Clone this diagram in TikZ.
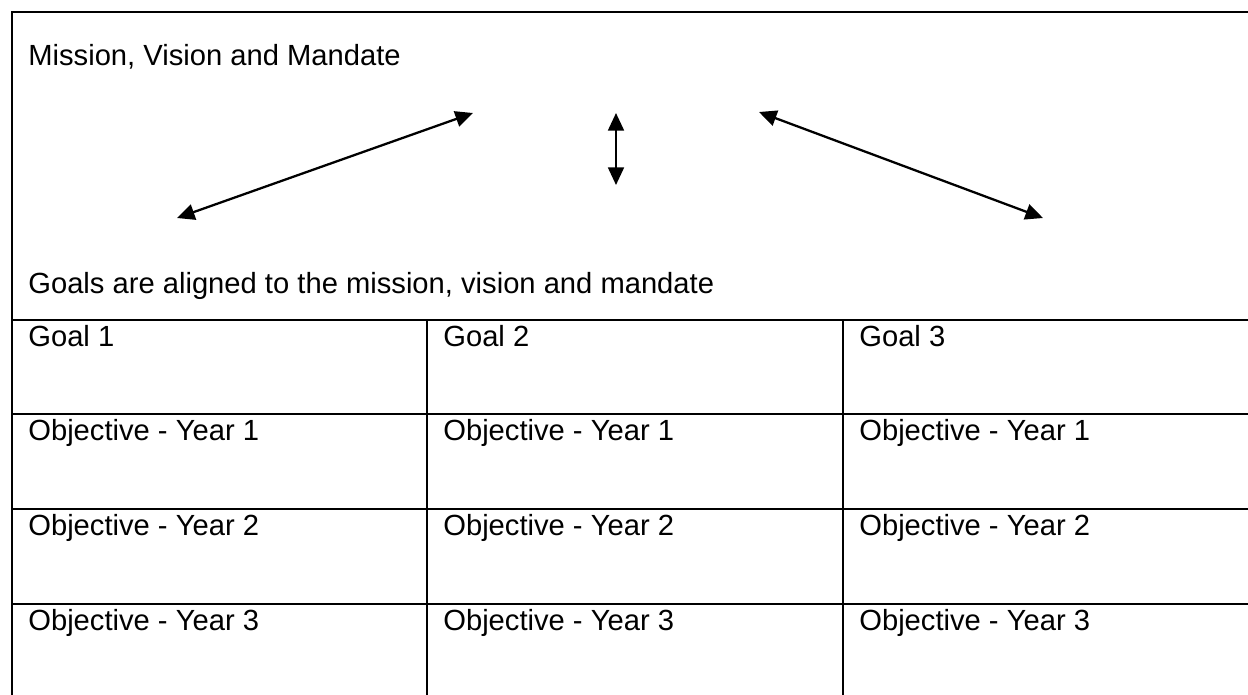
\documentclass[tikz,border=0pt]{standalone}
\usepackage{fontspec}
\setmainfont{Liberation Sans}
\usetikzlibrary{arrows.meta}
\tikzset{
  txt/.style={anchor=base west,inner sep=0pt,font=\fontsize{16.6pt}{20pt}\selectfont},
  rule/.style={line width=1.6pt},
  link/.style={line width=1.3pt,{Triangle[length=10pt,width=9pt]}-{Triangle[length=10pt,width=9pt]}}
}
\begin{document}
\begin{tikzpicture}[x=0.02cm,y=-0.02cm]
      \useasboundingbox (0,0) rectangle (1248,694);
      \draw
        (28,65) node[txt] (mission){Mission, Vision and Mandate}
        (28,293) node[txt] (aligned){Goals are aligned to the mission, vision and mandate}
        (28,346) node[txt] (g1){Goal 1}
        (443,346) node[txt] (g2){Goal 2}
        (859,346) node[txt] (g3){Goal 3}
        (28,440) node[txt] (g1y1){Objective - Year 1}
        (443,440) node[txt] (g2y1){Objective - Year 1}
        (859,440) node[txt] (g3y1){Objective - Year 1}
        (28,535) node[txt] (g1y2){Objective - Year 2}
        (443,535) node[txt] (g2y2){Objective - Year 2}
        (859,535) node[txt] (g3y2){Objective - Year 2}
        (28,630) node[txt] (g1y3){Objective - Year 3}
        (443,630) node[txt] (g2y3){Objective - Year 3}
        (859,630) node[txt] (g3y3){Objective - Year 3};
      % arrow ends
      \coordinate (la) at (177,218);
      \coordinate (lb) at (473,113);
      \coordinate (ma) at (616,113);
      \coordinate (mb) at (616,185);
      \coordinate (ra) at (759,112);
      \coordinate (rb) at (1043,218);
      \begin{scope}[link]
        \draw (la) to (lb);
        \draw (ma) to (mb);
        \draw (ra) to (rb);
      \end{scope}
      % frame and table
      \begin{scope}[rule]
        \draw (1260,12) -- (12,12) -- (12,706);
        \draw (12,320) to (1260,320);
        \draw (12,414) to (1260,414);
        \draw (12,509) to (1260,509);
        \draw (12,604) to (1260,604);
        \draw (427,320) to (427,706);
        \draw (843,320) to (843,706);
      \end{scope}
    \end{tikzpicture}
\end{document}
